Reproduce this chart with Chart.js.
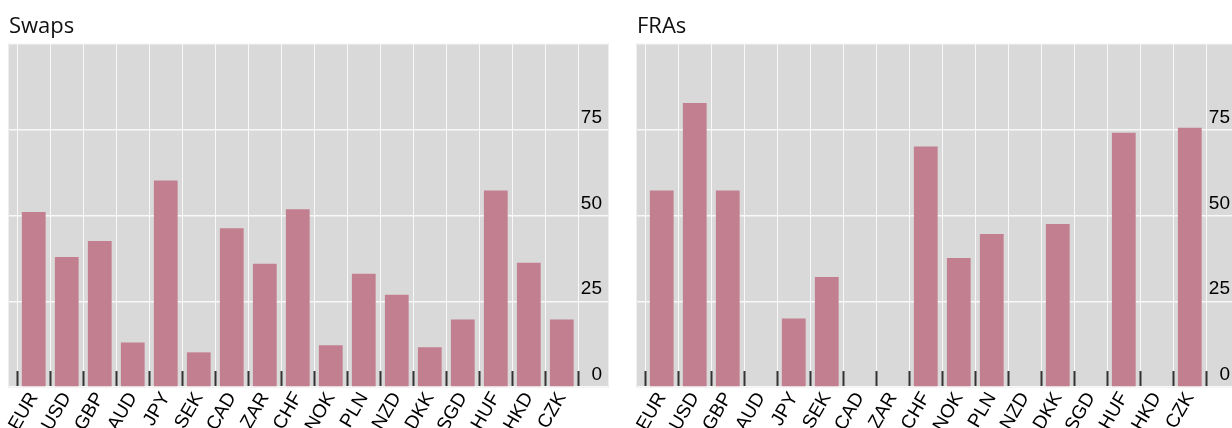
<!DOCTYPE html>
<html>
<head>
<meta charset="utf-8">
<script src="https://cdn.jsdelivr.net/npm/chart.js"></script>
<style>
  html, body { margin: 0; padding: 0; background: #fff; overflow: hidden; }
  body { width: 1232px; height: 428px; position: relative; }
  canvas { position: absolute; top: 0; }
  #swapsChart { left: 0; }
  #frasChart { left: 628px; }
</style>
</head>
<body>
<canvas id="swapsChart" width="618" height="428"></canvas>
<canvas id="frasChart" width="618" height="428"></canvas>
<script>
// data
const currencies = ["EUR", "USD", "GBP", "AUD", "JPY", "SEK", "CAD", "ZAR", "CHF", "NOK", "PLN", "NZD", "DKK", "SGD", "HUF", "HKD", "CZK"];
const swaps = [51.0, 37.9, 42.6, 13.0, 60.2, 10.1, 46.3, 35.9, 51.8, 12.2, 33.0, 26.9, 11.6, 19.7, 57.3, 36.2, 19.7];
const fras = [57.3, 82.8, 57.3, 0, 20.0, 32.1, 0, 0, 70.1, 37.6, 44.6, 0, 47.5, 0, 74.1, 0, 75.6];
const yTicks = [0, 25, 50, 75];
const yMax = 100;

const barColor = "#c27f8f";
const gridColor = "#f8f8f8";
const tickFont = { family: "'Liberation Sans', Arial, sans-serif", size: 19 };

// grey panel behind the plot area
const panelBg = {
  id: "panelBg",
  beforeDraw(chart) {
    const { ctx, chartArea: a } = chart;
    ctx.save();
    ctx.fillStyle = "#d9d9d9";
    ctx.fillRect(a.left, a.top, a.right - a.left, a.bottom - a.top);
    ctx.strokeStyle = "#eeeeee";
    ctx.lineWidth = 1;
    ctx.strokeRect(a.left - 0.5, a.top - 0.5, a.right - a.left + 1, a.bottom - a.top + 1);
    ctx.restore();
  }
};

function makeChart(id, title, values) {
  const ctx = document.getElementById(id).getContext("2d");
  return new Chart(ctx, {
    type: "bar",
    data: {
      datasets: [{
        data: values.map((v, i) => ({ x: i, y: v })),
        backgroundColor: barColor,
        borderWidth: 0
      }]
    },
    options: {
      responsive: false,
      animation: false,
      layout: { padding: { left: 9, right: 10, top: 0, bottom: 0 } },
      plugins: {
        legend: { display: false },
        tooltip: { enabled: false },
        title: {
          display: true,
          text: title,
          align: "start",
          color: "#111",
          font: { family: "'Open Sans', sans-serif", size: 22, weight: "normal" },
          padding: { top: 14, bottom: 3.6 }
        }
      },
      scales: {
        x: {
          type: "linear",
          offset: false,
          min: -0.75,
          max: 17.4,
          afterBuildTicks: s => { s.ticks = currencies.map((c, i) => ({ value: i })); },
          afterFit: s => { s.height = 41; s.paddingLeft = 0; s.paddingRight = 0; },
          grid: {
            offset: true,
            color: gridColor,
            lineWidth: 1,
            drawTicks: true,
            tickLength: -16,
            tickColor: "#333",
            tickWidth: 2
          },
          border: { display: false },
          ticks: {
            autoSkip: false,
            minRotation: 60,
            maxRotation: 60,
            padding: 17.5,
            color: "#000",
            font: tickFont,
            callback: v => currencies[v]
          }
        },
        y: {
          position: "right",
          min: 0,
          max: yMax,
          afterBuildTicks: s => { s.ticks = yTicks.concat([yMax]).map(v => ({ value: v })); },
          afterFit: s => { s.width = 0; },
          grid: { color: gridColor, lineWidth: 1.5, drawTicks: false },
          border: { display: false },
          ticks: {
            mirror: true,
            padding: -6,
            labelOffset: -12,
            color: "#000",
            font: tickFont,
            callback: v => (yTicks.includes(v) ? v : "")
          }
        }
      }
    },
    plugins: [panelBg]
  });
}

makeChart("swapsChart", "Swaps", swaps);
makeChart("frasChart", "FRAs", fras);
</script>
</body>
</html>
